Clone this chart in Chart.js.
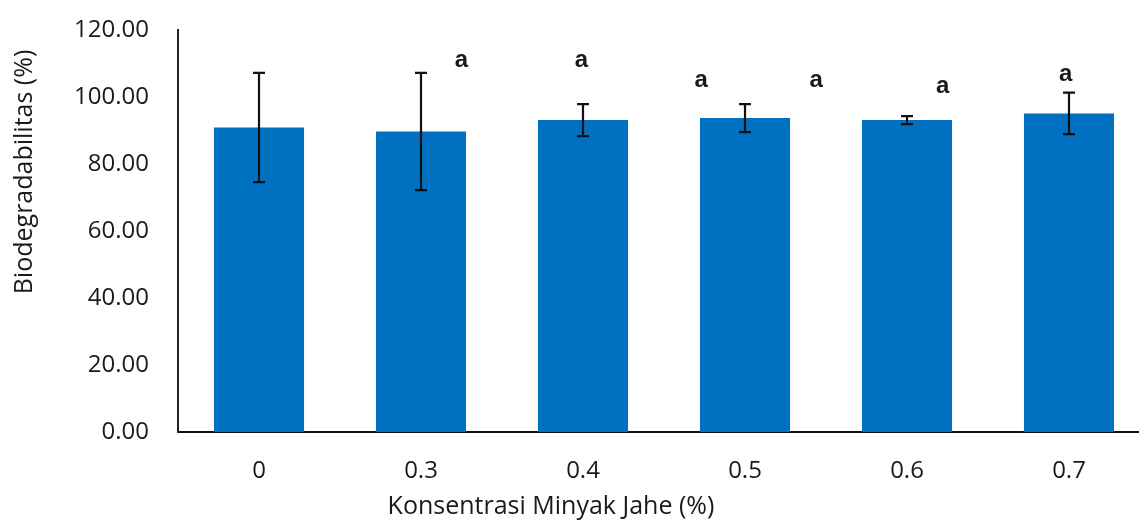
<!DOCTYPE html>
<html>
<head>
<meta charset="utf-8">
<script src="https://cdn.jsdelivr.net/npm/chart.js@4/dist/chart.umd.min.js"></script>
<style>
  html, body { margin: 0; padding: 0; background: #fff; overflow: hidden; }
  #wrap { width: 1150px; height: 523px; }
</style>
</head>
<body>
<div id="wrap"><canvas id="c" width="1150" height="523"></canvas></div>
<script>
// Ginger oil concentration (%) and mean biodegradability (%) with standard deviation
const categories = ['0', '0.3', '0.4', '0.5', '0.6', '0.7'];
const meanValues = [90.9, 89.7, 93.1, 93.7, 93.1, 95.1];
const sdValues = [16.3, 17.5, 4.8, 4.2, 1.2, 6.2];
const yTicks = [0, 20, 40, 60, 80, 100, 120];

// Significance letters: text, category position, value position
const letterText = ['a', 'a', 'a', 'a', 'a', 'a'];
const letterCat = [1.25, 1.99, 2.73, 3.44, 4.22, 4.98];
const letterVal = [109.0, 109.0, 103.0, 103.0, 101.1, 104.9];

const FONT = '"Open Sans", "Noto Sans", sans-serif';
const TEXT = '#1a1a1a';

const errorBars = {
  id: 'errorBars',
  afterDatasetsDraw(chart) {
    const ctx = chart.ctx;
    const y = chart.scales.y;
    const meta = chart.getDatasetMeta(0);
    ctx.save();
    ctx.strokeStyle = '#111';
    ctx.lineWidth = 2.2;
    meta.data.forEach((bar, i) => {
      const top = y.getPixelForValue(meanValues[i] + sdValues[i]);
      const bot = y.getPixelForValue(meanValues[i] - sdValues[i]);
      const cap = 6;
      ctx.beginPath();
      ctx.moveTo(bar.x, top); ctx.lineTo(bar.x, bot);
      ctx.moveTo(bar.x - cap, top); ctx.lineTo(bar.x + cap, top);
      ctx.moveTo(bar.x - cap, bot); ctx.lineTo(bar.x + cap, bot);
      ctx.stroke();
    });
    ctx.restore();
  }
};

const annotations = {
  id: 'annotations',
  afterDraw(chart) {
    const ctx = chart.ctx;
    const { x, y } = chart.scales;
    const area = chart.chartArea;
    ctx.save();
    // significance letters
    ctx.fillStyle = TEXT;
    ctx.font = 'bold 24px "Liberation Sans", Arial, sans-serif';
    ctx.textAlign = 'center';
    ctx.textBaseline = 'alphabetic';
    letterText.forEach((t, i) => {
      ctx.fillText(t, x.getPixelForValue(letterCat[i]), y.getPixelForValue(letterVal[i]));
    });
    // axis titles
    ctx.font = '25px ' + FONT;
    ctx.textBaseline = 'middle';
    ctx.fillText('Konsentrasi Minyak Jahe (%)', area.left + 373, 507);
    ctx.translate(25, area.top + 142);
    ctx.rotate(-Math.PI / 2);
    ctx.fillText('Biodegradabilitas (%)', 0, 0);
    ctx.restore();
  }
};

new Chart(document.getElementById('c'), {
  type: 'bar',
  data: {
    labels: categories,
    datasets: [{
      data: meanValues,
      backgroundColor: '#0070C0',
      borderWidth: 0,
      barPercentage: 0.556,
      categoryPercentage: 1
    }]
  },
  options: {
    responsive: false,
    animation: false,
    layout: { padding: { top: 30, right: 0, left: 0, bottom: 0 } },
    plugins: { legend: { display: false }, tooltip: { enabled: false } },
    scales: {
      x: {
        grid: { display: false, drawTicks: false },
        border: { display: true, color: '#111', width: 2 },
        ticks: { color: TEXT, font: { family: FONT, size: 24 }, padding: 25, maxRotation: 0 },
        afterFit(s) { s.height = 91; }
      },
      y: {
        min: 0,
        max: 120,
        grid: { display: false, drawTicks: false },
        border: { display: true, color: '#222', width: 2 },
        afterBuildTicks(s) { s.ticks = yTicks.map(v => ({ value: v })); },
        ticks: {
          color: TEXT,
          font: { family: FONT, size: 24 },
          padding: 29,
          callback: v => Number(v).toFixed(2)
        },
        afterFit(s) { s.width = 178; s.paddingTop = 0; s.paddingBottom = 0; }
      }
    }
  },
  plugins: [errorBars, annotations]
});
</script>
</body>
</html>
